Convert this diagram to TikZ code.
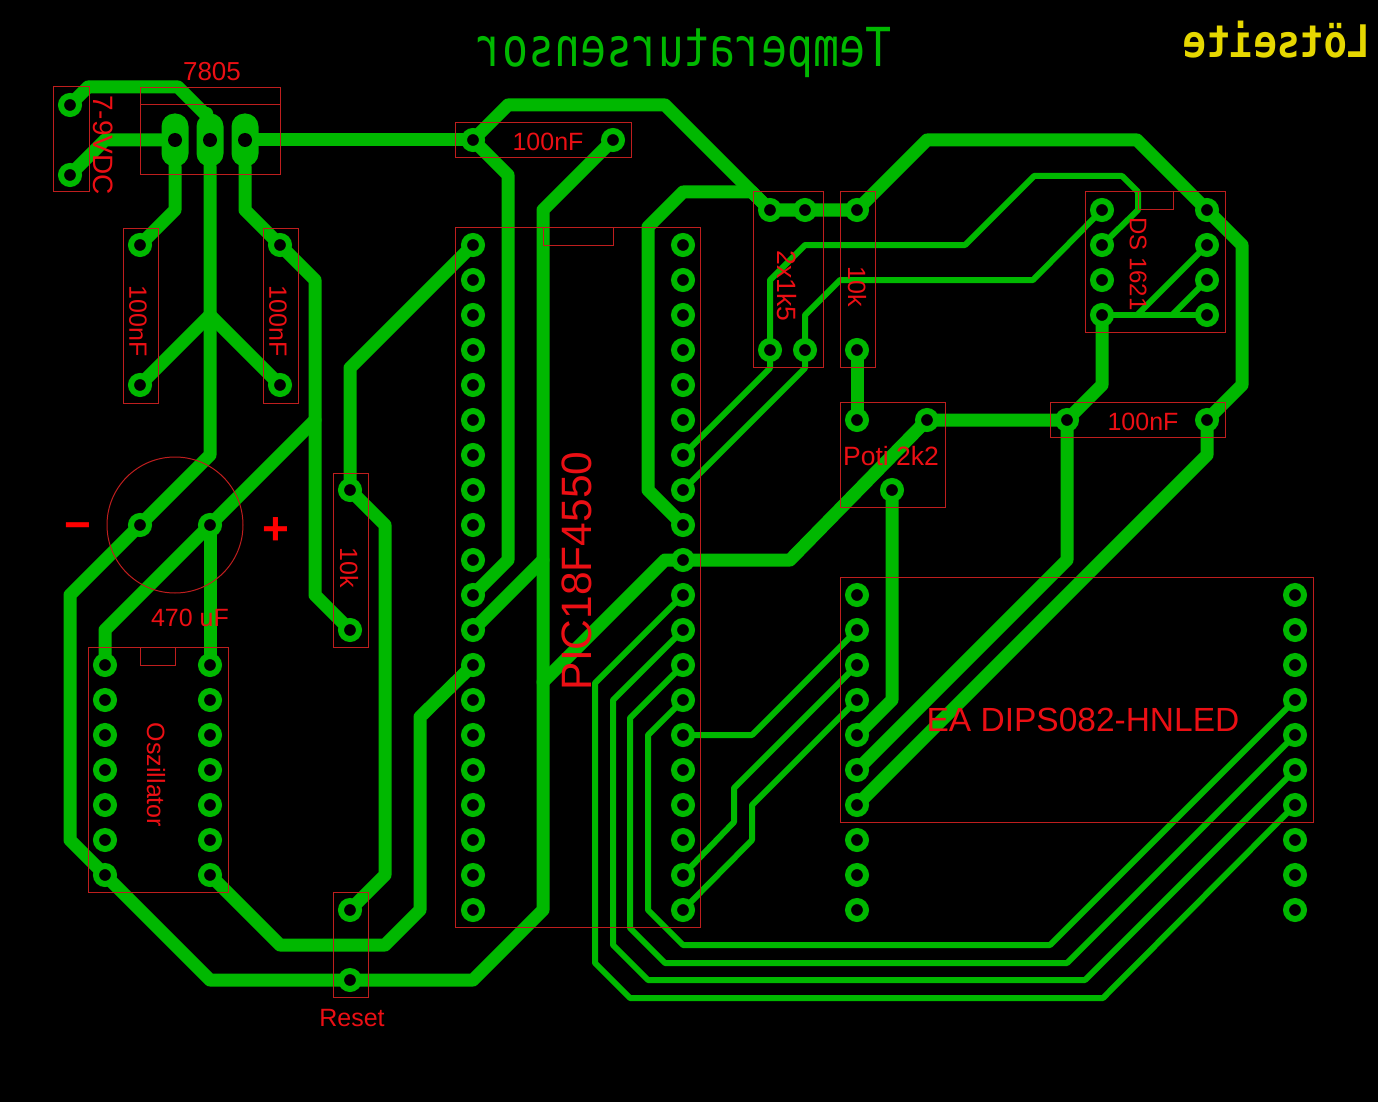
\documentclass[tikz,border=0pt]{standalone}
\usepackage{fontspec}
\setmainfont{Liberation Sans}
\newfontfamily\titlefont{DejaVu Sans Mono}
\usetikzlibrary{backgrounds}
\definecolor{copper}{RGB}{0,184,0}
\definecolor{silk}{RGB}{235,15,20}
\definecolor{outline}{RGB}{190,30,30}
\definecolor{sidelabel}{RGB}{230,215,0}
\pgfdeclarelayer{board}
\pgfsetlayers{board,main}

\begin{document}
\begin{tikzpicture}[x=1pt, y=-1pt,
    pad/.style={circle, draw=copper, fill=black, line width=6pt, minimum size=18pt, inner sep=0pt, outer sep=0pt},
    longpad/.style={rectangle, fill=copper, rounded corners=13pt, minimum width=27pt, minimum height=53pt, inner sep=0pt, outer sep=0pt},
    drill/.style={circle, fill=black, minimum size=14pt, inner sep=0pt, outer sep=0pt},
    wide/.style={draw=copper, line width=13pt, line join=round, line cap=round},
    slim/.style={draw=copper, line width=6pt, line join=round, line cap=round},
    part/.style={draw=outline, line width=1pt},
    silktext/.style={text=silk, inner sep=0pt, font=\fontsize{25}{25}\selectfont},
    bigsign/.style={text=red, inner sep=0pt, font=\bfseries\fontsize{46}{46}\selectfont},
]

    % pads
    \foreach \n in {1,...,20} {
        \node[pad] (picl\n) at (473,{210+35*\n}) {};
        \node[pad] (picr\n) at (683,{210+35*\n}) {};
    }
    \foreach \n in {1,...,10} {
        \node[pad] (lcdl\n) at (857,{560+35*\n}) {};
        \node[pad] (lcdr\n) at (1295,{560+35*\n}) {};
    }
    \foreach \n in {1,...,7} {
        \node[pad] (oscl\n) at (105,{630+35*\n}) {};
        \node[pad] (oscr\n) at (210,{630+35*\n}) {};
    }
    \foreach \n/\yy in {1/210,2/245,3/280,4/315} {
        \node[pad] (dsl\n) at (1102,\yy) {};
        \node[pad] (dsr\n) at (1207,\yy) {};
    }
    \node[pad] (dcin)   at (70,105)   {};
    \node[pad] (dcgnd)  at (70,175)   {};
    \node[pad] (cina)   at (140,245)  {};
    \node[pad] (cinb)   at (140,385)  {};
    \node[pad] (couta)  at (280,245)  {};
    \node[pad] (coutb)  at (280,385)  {};
    \node[pad] (elkom)  at (140,525)  {};
    \node[pad] (elkop)  at (210,525)  {};
    \node[pad] (pulla)  at (350,490)  {};
    \node[pad] (pullb)  at (350,630)  {};
    \node[pad] (picca)  at (473,140)  {};
    \node[pad] (piccb)  at (613,140)  {};
    \node[pad] (reseta) at (350,910)  {};
    \node[pad] (resetb) at (350,980)  {};
    \node[pad] (rdua)   at (770,210)  {};
    \node[pad] (rdub)   at (805,210)  {};
    \node[pad] (rduc)   at (770,350)  {};
    \node[pad] (rdud)   at (805,350)  {};
    \node[pad] (rbla)   at (857,210)  {};
    \node[pad] (rblb)   at (857,350)  {};
    \node[pad] (potia)  at (857,420)  {};
    \node[pad] (potib)  at (927,420)  {};
    \node[pad] (potic)  at (892,490)  {};
    \node[pad] (dscma)  at (1067,420) {};
    \node[pad] (dscmb)  at (1207,420) {};
    \node[longpad] (vreg1) at (175,140) {};
    \node[longpad] (vreg2) at (210,140) {};
    \node[longpad] (vreg3) at (245,140) {};
    \node[drill]   (hole1) at (vreg1)   {};
    \node[drill]   (hole2) at (vreg2)   {};
    \node[drill]   (hole3) at (vreg3)   {};

    \begin{pgfonlayer}{board}
        \fill[black] (0,0) rectangle (1378,1102);

        % wide tracks
        \draw[wide] (dcin) -- (88,87) -- (178,87) -- (207,116) -- (vreg2);
        \draw[wide] (dcgnd) -- (105,140) -- (vreg1);
        \draw[wide] (vreg3) -- (picca);
        \draw[wide] (vreg1) -- (175,210) -- (cina);
        \draw[wide] (cinb) -- (210,315);
        \draw[wide] (coutb) -- (210,315);
        \draw[wide] (vreg2) -- (210,455) -- (elkom) -- (70,595) -- (70,840) -- (oscl7) -- (210,980) -- (resetb) -- (473,980) -- (543,910) -- (543,210) -- (piccb);
        \draw[wide] (vreg3) -- (245,210) -- (couta) -- (315,280) -- (315,595) -- (pullb);
        \draw[wide] (315,420) -- (elkop) -- (105,630) -- (oscl1);
        \draw[wide] (elkop) -- (oscr1);
        \draw[wide] (picl1) -- (350,368) -- (pulla) -- (385,525) -- (385,875) -- (reseta);
        \draw[wide] (oscr7) -- (280,945) -- (385,945) -- (420,910) -- (420,717) -- (picl13);
        \draw[wide] (picca) -- (508,105) -- (665,105) -- (rdua);
        \draw[wide] (picca) -- (508,175) -- (508,560) -- (picl11);
        \draw[wide] (picl12) -- (543,560);
        \draw[wide] (picr10) -- (665,560) -- (543,682);
        \draw[wide] (picr10) -- (790,560) -- (potib);
        \draw[wide] (picr9) -- (648,490) -- (648,227) -- (683,192) -- (752,192) -- (rdua);
        \draw[wide] (rdua) -- (rdub) -- (rbla) -- (927,140) -- (1137,140) -- (dsr1) -- (1242,245) -- (1242,385) -- (dscmb);
        \draw[wide] (dsl4) -- (1102,385) -- (dscma);
        \draw[wide] (potib) -- (dscma) -- (1067,560) -- (lcdl6);
        \draw[wide] (dscmb) -- (1207,455) -- (lcdl7);
        \draw[wide] (potic) -- (892,700) -- (lcdl5);
        \draw[wide] (rblb) -- (potia);

        % slim tracks
        \draw[slim] (picr7) -- (770,368) -- (rduc) -- (770,280) -- (805,245) -- (965,245) -- (1034,176) -- (1122,176) -- (1138,192) -- (1138,210) -- (dsl2);
        \draw[slim] (picr8) -- (805,368) -- (rdud) -- (805,315) -- (840,280) -- (1033,280) -- (dsl1);
        \draw[slim] (dsl4) -- (dsr4);
        \draw[slim] (dsr2) -- (1137,315);
        \draw[slim] (dsr3) -- (1172,315);
        \draw[slim] (picr15) -- (752,735) -- (lcdl2);
        \draw[slim] (lcdl3) -- (734,788) -- (734,822) -- (picr19);
        \draw[slim] (lcdl4) -- (752,805) -- (752,840) -- (picr20);
        \draw[slim] (picr11) -- (595,683) -- (595,963) -- (630,998) -- (1103,998) -- (lcdr7);
        \draw[slim] (picr12) -- (613,700) -- (613,945) -- (648,980) -- (1085,980) -- (lcdr6);
        \draw[slim] (picr13) -- (630,718) -- (630,928) -- (665,963) -- (1067,963) -- (lcdr5);
        \draw[slim] (picr14) -- (648,735) -- (648,910) -- (683,945) -- (1050,945) -- (lcdr4);
    \end{pgfonlayer}

    % part outlines
    \draw[part] (53,87) rectangle (89,192);
    \draw[part] (140,88) rectangle (280,175);
    \draw[part] (140,105) -- (280,105);
    \draw[part] (123,228) rectangle (158,403);
    \draw[part] (263,228) rectangle (298,403);
    \draw[part] (175,525) circle[radius=68pt];
    \draw[part] (333,473) rectangle (368,647);
    \draw[part] (88,647) rectangle (228,892);
    \draw[part] (140,647) rectangle (175,665);
    \draw[part] (333,892) rectangle (368,997);
    \draw[part] (455,123) rectangle (631,158);
    \draw[part] (455,227) rectangle (700,927);
    \draw[part] (543,227) rectangle (613,245);
    \draw[part] (753,192) rectangle (823,367);
    \draw[part] (840,192) rectangle (875,367);
    \draw[part] (840,402) rectangle (945,507);
    \draw[part] (1050,402) rectangle (1225,437);
    \draw[part] (1085,192) rectangle (1225,332);
    \draw[part] (1138,192) rectangle (1173,210);
    \draw[part] (840,577) rectangle (1313,822);

    % texts
    \node[text=copper, xscale=-1, yscale=1.25, font=\titlefont\fontsize{43}{43}\selectfont] (title) at (684,53) {Temperatursensor};
    \node[text=sidelabel, xscale=-1, yscale=1.15, font=\titlefont\bfseries\fontsize{39}{39}\selectfont] (side) at (1277,40) {Lötseite};
    \node[silktext, font=\fontsize{26}{26}\selectfont] (lbvreg)  at (212,72)    {7805};
    \node[silktext, rotate=-90, font=\fontsize{28}{28}\selectfont] (lbdc)   at (103,145)  {7-9VDC};
    \node[silktext, rotate=-90] (lbcin)  at (138,321)  {100nF};
    \node[silktext, rotate=-90] (lbcout) at (278,321)  {100nF};
    \node[silktext] (lbelko)  at (190,618)   {470 uF};
    \node[bigsign] (lbminus) at (78,532) {−};
    \node[bigsign] (lbplus)  at (276,531) {+};
    \node[silktext, rotate=-90] (lbpull) at (349,568)  {10k};
    \node[silktext, rotate=-90] (lbosc)  at (156,775)  {Oszillator};
    \node[silktext] (lbreset) at (352,1018)  {Reset};
    \node[silktext] (lbpicc)  at (548,142)   {100nF};
    \node[silktext, rotate=90, font=\fontsize{42.5}{42.5}\selectfont] (lbpic) at (577,571) {PIC18F4550};
    \node[silktext, rotate=-90, font=\fontsize{26.5}{26.5}\selectfont] (lbrdu)  at (787,286)  {2x1k5};
    \node[silktext, rotate=-90] (lbrbl)  at (857,287)  {10k};
    \node[silktext, rotate=-90, font=\fontsize{24}{24}\selectfont] (lbds)   at (1138,264) {DS 1621};
    \node[silktext, font=\fontsize{26.5}{26.5}\selectfont] (lbpoti)  at (891,456)   {Poti 2k2};
    \node[silktext] (lbdsc)   at (1143,422)  {100nF};
    \node[silktext, font=\fontsize{33.5}{33.5}\selectfont] (lblcd) at (1083,720) {EA DIPS082-HNLED};

\end{tikzpicture}
\end{document}
